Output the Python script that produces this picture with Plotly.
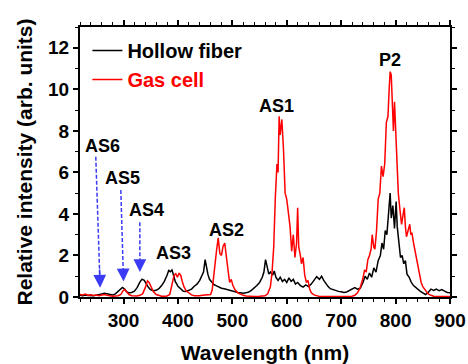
import plotly.graph_objects as go

# Hollow-fiber spectrum: wavelength (nm) and relative intensity
hf_wl = [220, 225, 230, 235, 240, 245, 250, 255, 260, 265, 270, 275, 280, 285, 290, 295, 298, 302, 306, 310,
         315, 320, 325, 330, 334, 338, 342, 346, 350, 355, 360, 365, 370, 375, 380, 383, 386, 389, 392, 395,
         400, 405, 410, 415, 420, 425, 430, 435, 440, 444, 447, 450, 452, 455, 458, 462, 466, 470, 475, 480,
         485, 490, 495, 500, 505, 510, 515, 520, 525, 530, 535, 540, 545, 550, 555, 558, 561, 564, 567, 570,
         574, 577, 580, 584, 588, 592, 596, 600, 604, 608, 612, 616, 620, 625, 630, 635, 640, 645, 650, 655,
         660, 664, 668, 672, 676, 680, 685, 690, 695, 700, 705, 710, 715, 720, 725, 730, 735, 740, 744, 748,
         752, 756, 760, 764, 768, 772, 775, 778, 781, 784, 787, 790, 792, 795, 798, 801, 803, 806, 809, 812,
         815, 818, 821, 825, 829, 833, 837, 841, 845, 850, 855, 860, 865, 870, 875, 880, 885, 890, 895, 900]
hf_int = [0.08, 0.06, 0.09, 0.07, 0.08, 0.06, 0.09, 0.10, 0.14, 0.18, 0.15, 0.12, 0.10, 0.15, 0.28, 0.42, 0.46, 0.38, 0.24, 0.20,
          0.22, 0.28, 0.45, 0.72, 0.86, 0.80, 0.62, 0.45, 0.35, 0.30, 0.32, 0.40, 0.55, 0.75, 1.05, 1.28, 1.22, 1.30, 1.05, 0.75,
          0.52, 0.38, 0.28, 0.27, 0.32, 0.38, 0.52, 0.62, 0.80, 1.05, 1.20, 1.80, 1.45, 1.10, 0.85, 0.72, 0.60, 0.55, 0.48, 0.42,
          0.40, 0.36, 0.32, 0.28, 0.26, 0.22, 0.20, 0.18, 0.20, 0.24, 0.32, 0.42, 0.55, 0.70, 0.95, 1.20, 1.80, 1.45, 1.10, 1.20,
          1.05, 1.25, 0.95, 0.80, 0.95, 0.75, 0.85, 0.70, 0.92, 0.75, 0.85, 0.62, 0.70, 0.55, 0.48, 0.58, 0.50, 0.62, 0.78, 0.98,
          0.85, 1.00, 0.80, 0.62, 0.50, 0.40, 0.35, 0.30, 0.27, 0.25, 0.22, 0.24, 0.30, 0.38, 0.45, 0.38, 0.42, 0.70, 1.00, 0.85,
          1.15, 0.95, 1.40, 1.20, 1.75, 2.00, 2.60, 2.30, 3.20, 3.00, 4.00, 5.00, 3.80, 4.40, 3.30, 4.60, 3.40, 2.60, 1.90, 2.00,
          1.60, 1.75, 1.10, 0.95, 0.70, 0.55, 0.45, 0.35, 0.28, 0.20, 0.12, 0.22, 0.38, 0.32, 0.38, 0.30, 0.36, 0.28, 0.22, 0.20]

# Gas-cell spectrum: wavelength (nm) and relative intensity
gc_wl = [220, 225, 230, 235, 240, 245, 250, 255, 260, 265, 270, 275, 280, 285, 290, 295, 299, 302, 306, 310,
         315, 320, 325, 330, 335, 340, 344, 347, 350, 355, 360, 365, 370, 375, 380, 385, 390, 393, 396, 399,
         402, 405, 408, 411, 415, 420, 425, 430, 435, 440, 445, 450, 455, 460, 463, 466, 469, 471, 474, 477,
         480, 483, 486, 489, 492, 495, 498, 501, 505, 510, 515, 520, 525, 530, 540, 550, 560, 565, 570, 573,
         576, 579, 582, 584, 586, 588, 591, 594, 597, 600, 603, 606, 609, 612, 615, 618, 620, 622, 625, 627,
         630, 633, 636, 639, 642, 645, 650, 655, 660, 680, 700, 720, 725, 730, 735, 740, 743, 746, 749, 752,
         755, 757, 760, 762, 765, 768, 771, 774, 777, 780, 783, 786, 788, 790, 792, 794, 796, 798, 800, 802,
         805, 808, 811, 814, 816, 818, 820, 823, 826, 828, 830, 833, 836, 838, 841, 844, 847, 850, 855, 860,
         865, 870, 880, 890, 900]
gc_int = [0.12, 0.10, 0.14, 0.08, 0.11, 0.07, 0.09, 0.06, 0.10, 0.12, 0.08, 0.05, 0.04, 0.05, 0.06, 0.12, 0.30, 0.36, 0.25, 0.12,
          0.06, 0.04, 0.05, 0.08, 0.15, 0.45, 0.78, 0.70, 0.50, 0.25, 0.12, 0.06, 0.04, 0.04, 0.05, 0.12, 0.70, 1.05, 1.12, 0.95,
          1.15, 1.05, 0.75, 0.50, 0.30, 0.18, 0.10, 0.06, 0.05, 0.06, 0.08, 0.10, 0.09, 0.12, 0.35, 1.20, 1.90, 2.25, 2.85, 2.10,
          2.00, 2.45, 2.60, 1.85, 1.30, 0.70, 0.85, 0.55, 0.35, 0.20, 0.12, 0.08, 0.05, 0.04, 0.03, 0.04, 0.06, 0.15, 0.50, 1.20,
          2.40, 4.80, 6.40, 6.00, 8.70, 7.80, 8.55, 7.10, 5.00, 4.70, 3.90, 3.40, 2.20, 3.00, 1.90, 2.60, 4.30, 2.40, 2.00, 1.60,
          1.90, 1.05, 0.70, 0.80, 0.40, 0.20, 0.10, 0.05, 0.03, 0.02, 0.02, 0.04, 0.08, 0.20, 0.45, 0.90, 1.30, 1.20, 1.80, 2.00,
          2.30, 3.00, 2.40, 2.30, 3.20, 4.70, 5.00, 6.30, 5.80, 6.40, 8.40, 8.70, 9.90, 10.85, 10.70, 9.20, 8.00, 9.40, 7.90, 6.40,
          5.00, 4.20, 3.50, 4.00, 4.30, 3.40, 2.90, 3.20, 3.50, 3.00, 3.10, 2.60, 2.20, 1.80, 1.40, 1.00, 0.70, 0.50, 0.30, 0.15,
          0.08, 0.04, 0.02, 0.02, 0.02]

# Peak labels (text, wavelength, intensity)
peak_names = ["AS6", "AS5", "AS4", "AS3", "AS2", "AS1", "P2"]
peak_x = [262, 298, 342, 391, 490, 582, 790]
peak_y = [7.27, 5.73, 4.19, 2.12, 3.23, 9.2, 11.4]

# Dashed pointer arrows for the weak lines (start -> tip, data units)
arrow_x0 = [249, 295, 330]
arrow_y0 = [6.75, 5.15, 3.6]
arrow_x1 = [257, 300, 330]
arrow_y1 = [0.45, 0.75, 1.2]

BLUE = "#3b3bf5"
FONT = "Liberation Sans, Arial, sans-serif"

fig = go.Figure()
fig.add_trace(go.Scatter(x=hf_wl, y=hf_int, mode="lines", name="<b>Hollow fiber</b>",
                         line=dict(color="black", width=1.5)))
fig.add_trace(go.Scatter(x=gc_wl, y=gc_int, mode="lines",
                         name="<b><span style='color:#ff0000'>Gas cell</span></b>",
                         line=dict(color="#ff0000", width=1.5)))

annotations = []
for x0, y0, x1, y1 in zip(arrow_x0, arrow_y0, arrow_x1, arrow_y1):
    # dashed shaft, stopping just short of the head
    fig.add_trace(go.Scatter(x=[x0, x0 + (x1 - x0) * 0.9], y=[y0, y0 + (y1 - y0) * 0.9],
                             mode="lines", showlegend=False, hoverinfo="skip",
                             line=dict(color=BLUE, width=1.5, dash="4px,2px")))
    # filled arrow head at the tip
    annotations.append(dict(x=x1, y=y1, ax=x0 + (x1 - x0) * 0.85, ay=y0 + (y1 - y0) * 0.85,
                            xref="x", yref="y", axref="x", ayref="y", text="",
                            showarrow=True, arrowhead=2, arrowsize=1.7, arrowwidth=1.5,
                            arrowcolor=BLUE, standoff=0))

for name, x, y in zip(peak_names, peak_x, peak_y):
    annotations.append(dict(x=x, y=y, xref="x", yref="y", text="<b>%s</b>" % name,
                            showarrow=False, font=dict(family=FONT, size=18, color="black")))

axis_common = dict(showline=True, linecolor="black", linewidth=2, mirror="ticks",
                   ticks="outside", ticklen=5, tickwidth=1.5, tickcolor="black",
                   showgrid=False, zeroline=False, automargin=False,
                   tickfont=dict(family=FONT, size=19, color="black"))

fig.update_layout(
    width=468, height=364,
    margin=dict(l=80, r=18, t=27, b=67),
    plot_bgcolor="white", paper_bgcolor="white",
    font=dict(family=FONT, color="black"),
    xaxis=dict(range=[220, 900], tickvals=[300, 400, 500, 600, 700, 800, 900],
               ticktext=["<b>%d</b>" % v for v in [300, 400, 500, 600, 700, 800, 900]],
               minor=dict(dtick=20, tick0=0, ticks="outside", ticklen=3, tickcolor="black", tickwidth=1.2),
               title=dict(text="<b>Wavelength (nm)</b>", font=dict(family=FONT, size=21), standoff=18),
               **axis_common),
    yaxis=dict(range=[0, 13], tickvals=[0, 2, 4, 6, 8, 10, 12],
               ticktext=["<b>%d</b>" % v for v in [0, 2, 4, 6, 8, 10, 12]],
               minor=dict(dtick=1, tick0=0, ticks="outside", ticklen=3, tickcolor="black", tickwidth=1.2),
               title=dict(text="<b>Relative intensity (arb. units)</b>", font=dict(family=FONT, size=21), standoff=10),
               **axis_common),
    legend=dict(x=0.02, y=0.985, xanchor="left", yanchor="top", bgcolor="rgba(0,0,0,0)",
                font=dict(family=FONT, size=20, color="black"), itemwidth=30, tracegroupgap=0),
    annotations=annotations,
    showlegend=True,
)

fig.write_html("out.html")
